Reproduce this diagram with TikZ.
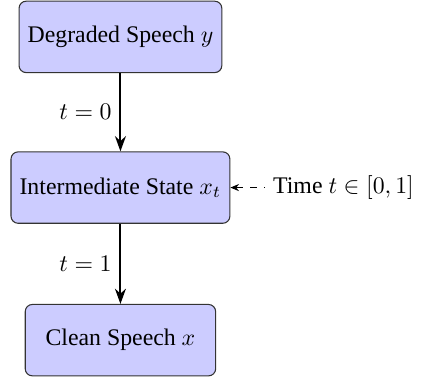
\documentclass[tikz,border=0pt]{standalone}
\usepackage{fontspec}
\setmainfont{Liberation Serif}
\usetikzlibrary{arrows.meta}
\tikzset{
  stagebox/.style={draw=black!80, line width=0.45pt, fill=blue!20, rounded corners=3pt,
    minimum width=80pt, minimum height=30pt, inner xsep=3.6pt, font=\fontsize{10}{12}\selectfont},
  flowarrow/.style={thick, -{Stealth[length=6.4pt,width=4.6pt]}},
  timearrow/.style={dashed, {Stealth[length=3.6pt,width=3pt]}-},
  lbl/.style={font=\fontsize{10}{12}\selectfont}
}
\begin{document}
\begin{tikzpicture}
\useasboundingbox (0,0) rectangle (177.7pt,-160.9pt);
\node[stagebox] (deg) at (50.6pt,-15.5pt) {Degraded Speech $y$};
\node[stagebox] (mid) at (50.6pt,-78.8pt) {Intermediate State $x_t$};
\node[stagebox] (clean) at (50.6pt,-142.9pt) {Clean Speech $x$};
\node[lbl] (time) at (144.3pt,-78.8pt) {Time $t\in[0,1]$};
\draw[flowarrow] (deg) -- node[lbl,midway,left] {$t=0$} (mid);
\draw[flowarrow] (mid) -- node[lbl,midway,left] {$t=1$} (clean);
\draw[timearrow] (mid.east) -- (time.west);
\end{tikzpicture}
\end{document}
